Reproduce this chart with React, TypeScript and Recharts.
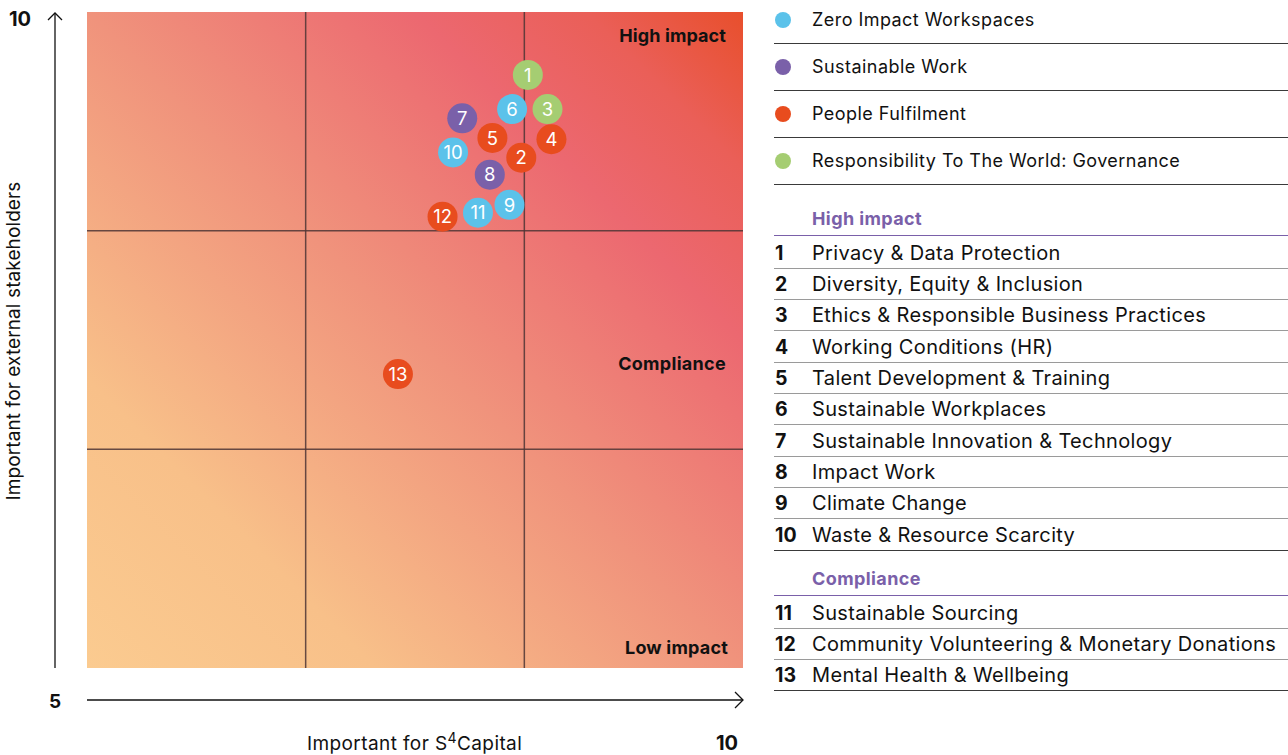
import { ScatterChart, Scatter, XAxis, YAxis, ReferenceArea, ReferenceLine } from 'recharts'

const categories = ['Zero Impact Workspaces', 'Sustainable Work', 'People Fulfilment', 'Responsibility To The World: Governance']
const categoryColors = ['#5bc2ea', '#7a60a9', '#e84c1e', '#a5cd72']

const topicIds = [1, 2, 3, 4, 5, 6, 7, 8, 9, 10, 11, 12, 13]
const topicNames = [
  'Privacy & Data Protection',
  'Diversity, Equity & Inclusion',
  'Ethics & Responsible Business Practices',
  'Working Conditions (HR)',
  'Talent Development & Training',
  'Sustainable Workplaces',
  'Sustainable Innovation & Technology',
  'Impact Work',
  'Climate Change',
  'Waste & Resource Scarcity',
  'Sustainable Sourcing',
  'Community Volunteering & Monetary Donations',
  'Mental Health & Wellbeing',
]
// x: important for S4Capital, y: important for external stakeholders
const importanceS4 = [8.36, 8.31, 8.51, 8.54, 8.09, 8.24, 7.86, 8.07, 8.22, 7.79, 7.98, 7.71, 7.37]
const importanceExternal = [9.52, 8.89, 9.26, 9.03, 9.04, 9.26, 9.19, 8.76, 8.53, 8.93, 8.47, 8.44, 7.24]
const topicCategory = [3, 2, 3, 2, 2, 0, 1, 1, 0, 0, 0, 2, 2]

const highImpactIds = [1, 2, 3, 4, 5, 6, 7, 8, 9, 10]
const complianceIds = [11, 12, 13]

const axisMin = 5
const axisMax = 10
const gridSplits = [20 / 3, 25 / 3]

const W = 760
const H = 755
const margin = { top: 12, right: 17, bottom: 87, left: 87 }
const plotRight = W - margin.right
const plotBottom = H - margin.bottom

const FONT = 'Inter, "Noto Sans", sans-serif'
const PURPLE = '#7a60a9'

const series = categories.map((_, c) =>
  topicIds
    .map((id, i) => ({ id, x: importanceS4[i], y: importanceExternal[i], c: topicCategory[i] }))
    .filter((d) => d.c === c)
)

const bubble = (color: string) => (props: any) => {
  const { cx, cy, payload } = props
  return (
    <g>
      <circle cx={cx} cy={cy} r={15} fill={color} />
      <text x={cx} y={cy} dy="0.36em" textAnchor="middle" fill="#fff" fontSize={18.5} fontFamily={FONT}>
        {payload.id}
      </text>
    </g>
  )
}

function Legend() {
  const rows: any[] = []
  categories.forEach((name, i) => {
    const cy = 19.5 + 47.3 * i
    rows.push(
      <div key={'c' + i}>
        <div style={{ position: 'absolute', left: 775, top: cy - 8, width: 16, height: 16, borderRadius: 8, background: categoryColors[i] }} />
        <div style={{ position: 'absolute', left: 812, top: cy - 12, height: 24, lineHeight: '24px', fontSize: 18, letterSpacing: 0.45 }}>{name}</div>
        <div style={{ position: 'absolute', left: 774, top: cy + 23, width: 514, borderTop: '1.5px solid #3a3a3a' }} />
      </div>
    )
  })

  const block = (title: string, ids: number[], headerY: number) => {
    const out: any[] = []
    out.push(
      <div key={title}>
        <div style={{ position: 'absolute', left: 812, top: headerY - 12, height: 24, lineHeight: '24px', fontSize: 18, letterSpacing: 0.4, fontWeight: 700, color: PURPLE }}>{title}</div>
        <div style={{ position: 'absolute', left: 774, top: headerY + 16, width: 514, borderTop: `1.5px solid ${PURPLE}` }} />
      </div>
    )
    ids.forEach((id, k) => {
      const cy = headerY + 33.5 + 31.35 * k
      const last = k === ids.length - 1
      out.push(
        <div key={title + id}>
          <div style={{ position: 'absolute', left: 775, top: cy - 12, height: 24, lineHeight: '24px', fontSize: 19.5, fontWeight: 700 }}>{id}</div>
          <div style={{ position: 'absolute', left: 812, top: cy - 12, height: 24, lineHeight: '24px', fontSize: 20, letterSpacing: 0.35 }}>{topicNames[id - 1]}</div>
          <div style={{ position: 'absolute', left: 774, top: cy + 15, width: 514, borderTop: last ? '1.5px solid #3a3a3a' : '1px solid #9a9a9a' }} />
        </div>
      )
    })
    return out
  }

  return (
    <>
      {rows}
      {block('High impact', highImpactIds, 219)}
      {block('Compliance', complianceIds, 579)}
    </>
  )
}

export default function App() {
  return (
    <div style={{ position: 'absolute', left: 0, top: 0, width: 1288, height: 755, background: '#fff', fontFamily: FONT, color: '#111', overflow: 'hidden' }}>
      <div style={{ position: 'absolute', left: 0, top: 0 }}>
        <ScatterChart width={W} height={H} margin={margin}>
          <defs>
            <linearGradient id="bg" x1="0" y1="1" x2="1" y2="0">
              <stop offset="0%" stopColor="#fbcb90" />
              <stop offset="22%" stopColor="#f8c089" />
              <stop offset="50%" stopColor="#f0937c" />
              <stop offset="75%" stopColor="#ec6870" />
              <stop offset="88%" stopColor="#ea5f58" />
              <stop offset="100%" stopColor="#e84f2c" />
            </linearGradient>
          </defs>
          <XAxis type="number" dataKey="x" domain={[axisMin, axisMax]} hide />
          <YAxis type="number" dataKey="y" domain={[axisMin, axisMax]} hide />
          <ReferenceArea x1={axisMin} x2={axisMax} y1={axisMin} y2={axisMax} fill="url(#bg)" fillOpacity={1} stroke="none" />
          {gridSplits.map((v) => (
            <ReferenceLine key={'x' + v} x={v} stroke="#4e3535" strokeOpacity={0.85} strokeWidth={1.5} />
          ))}
          {gridSplits.map((v) => (
            <ReferenceLine key={'y' + v} y={v} stroke="#4e3535" strokeOpacity={0.85} strokeWidth={1.5} />
          ))}
          {series.map((data, c) => (
            <Scatter key={c} name={categories[c]} data={data} fill={categoryColors[c]} shape={bubble(categoryColors[c])} isAnimationActive={false} />
          ))}
        </ScatterChart>
      </div>
      <svg width={W} height={H} style={{ position: 'absolute', left: 0, top: 0, pointerEvents: 'none' }} fontFamily={FONT}>
        <g stroke="#111" strokeWidth={1.3} fill="none">
          <line x1={55} y1={margin.top + 1} x2={55} y2={plotBottom} />
          <polyline points={`48,${margin.top + 8} 55,${margin.top + 1} 62,${margin.top + 8}`} />
          <line x1={margin.left} y1={700} x2={plotRight} y2={700} />
          <polyline points={`${plotRight - 8},692 ${plotRight},700 ${plotRight - 8},708`} />
        </g>
        <text x={31} y={26} textAnchor="end" fontSize={20} fontWeight={700} fill="#111">10</text>
        <text x={55} y={708} textAnchor="middle" fontSize={19} fontWeight={700} fill="#111">5</text>
        <text x={738} y={750} textAnchor="end" fontSize={20} fontWeight={700} fill="#111">10</text>
        <text x={307} y={750} fontSize={19} letterSpacing={0.4} fill="#111">
          Important for S<tspan fontSize={14} dy={-7}>4</tspan><tspan dy={7}>Capital</tspan>
        </text>
        <text transform={`translate(20, 341) rotate(-90)`} textAnchor="middle" fontSize={19} letterSpacing={0.1} fill="#111">
          Important for external stakeholders
        </text>
        <g fontSize={18} fontWeight={700} fill="#111" textAnchor="end">
          <text x={726} y={42} letterSpacing={0.1}>High impact</text>
          <text x={726} y={370} letterSpacing={0.3}>Compliance</text>
          <text x={728} y={654} letterSpacing={0.2}>Low impact</text>
        </g>
      </svg>
      <Legend />
    </div>
  )
}
